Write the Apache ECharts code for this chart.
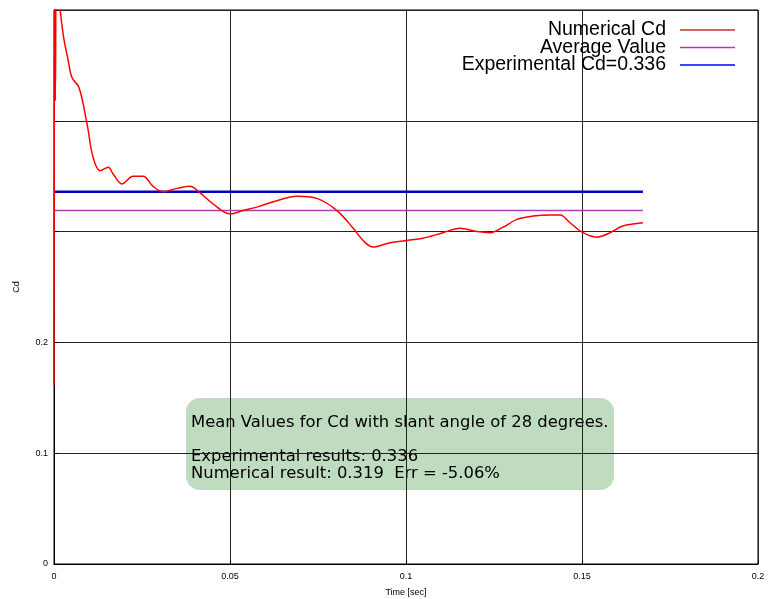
<!DOCTYPE html>
<html>
<head>
<meta charset="utf-8">
<script src="https://cdn.jsdelivr.net/npm/echarts@6/dist/echarts.min.js"></script>
<style>html,body{margin:0;padding:0;background:#fff}#c{width:768px;height:599px}</style>
</head>
<body>
<div id="c"></div>
<script>
// ---- data ----
const timeSec = [0, 0.0002, 0.0004, 0.0007, 0.0012, 0.0026, 0.0040, 0.0051, 0.0071, 0.0094, 0.0111, 0.0131, 0.0154, 0.0168, 0.0193, 0.0225, 0.0253, 0.0281, 0.0310, 0.0349, 0.0386, 0.0415, 0.0452, 0.0500, 0.0537, 0.0585, 0.0614, 0.0690, 0.0747, 0.0804, 0.0850, 0.0878, 0.0906, 0.0955, 0.1003, 0.1048, 0.1105, 0.1153, 0.1202, 0.1239, 0.1276, 0.1315, 0.1361, 0.1409, 0.1438, 0.1466, 0.1503, 0.1543, 0.1580, 0.1616, 0.1673];
const numericalCd = [0.161, 0.56, 0.418, 0.58, 0.52, 0.478, 0.455, 0.439, 0.430, 0.397, 0.367, 0.355, 0.358, 0.352, 0.343, 0.350, 0.350, 0.341, 0.336, 0.339, 0.341, 0.335, 0.325, 0.316, 0.319, 0.323, 0.326, 0.332, 0.330, 0.319, 0.303, 0.292, 0.286, 0.290, 0.292, 0.294, 0.299, 0.303, 0.300, 0.299, 0.304, 0.311, 0.314, 0.315, 0.315, 0.308, 0.299, 0.295, 0.299, 0.305, 0.308];
const averageValue = 0.319;
const experimentalCd = 0.336;
const lineStart = 0;
const lineEnd = 0.1673;
const seriesNames = ['Numerical Cd', 'Average Value', 'Experimental Cd=0.336'];
const xTickLabels = ['0', '0.05', '0.1', '0.15', '0.2'];
const yTickLabels = ['0', '0.1', '0.2'];
const boxLines = ['Mean Values for Cd with slant angle of 28 degrees.', '', 'Experimental results: 0.336', 'Numerical result: 0.319  Err = -5.06%'];

const chart = echarts.init(document.getElementById('c'), null, {renderer: 'canvas'});
const numData = timeSec.map((t, i) => [t, numericalCd[i]]);
const fnt = '"Liberation Sans", Arial, sans-serif';

chart.setOption({
  animation: false,
  backgroundColor: '#fff',
  grid: {left: 54, right: 10, top: 10, bottom: 35, outerBoundsMode: 'none', containLabel: false,
    show: true, borderColor: '#000', borderWidth: 1, backgroundColor: 'transparent'},
  legend: {
    orient: 'vertical', right: 28, top: 15, align: 'right', itemGap: -2.5,
    itemWidth: 55, itemHeight: 1.5, icon: 'rect',
    textStyle: {fontFamily: fnt, fontSize: 19.5, color: '#000', lineHeight: 17, padding: [0, 9, 0, 0]},
    data: [
      {name: seriesNames[0], itemStyle: {color: '#c03030'}},
      {name: seriesNames[1], itemStyle: {color: '#c030c0'}},
      {name: seriesNames[2], itemStyle: {color: '#0000ff'}}
    ]
  },
  xAxis: {
    type: 'value', min: 0, max: 0.2, interval: 0.05,
    name: 'Time [sec]', nameLocation: 'middle', nameGap: 24,
    nameTextStyle: {fontFamily: fnt, fontSize: 9, color: '#000'},
    axisLine: {show: true, lineStyle: {color: '#000', width: 1}},
    axisTick: {show: true, inside: true, length: 4, lineStyle: {color: '#000'}},
    axisLabel: {fontFamily: fnt, fontSize: 9, color: '#000', margin: 8,
      formatter: (v) => { const i = Math.round(v / 0.05); return xTickLabels[i] !== undefined ? xTickLabels[i] : ''; }},
    splitLine: {show: true, lineStyle: {color: '#222', width: 1}}
  },
  yAxis: {
    type: 'value', min: 0, max: 0.5, interval: 0.1,
    name: 'Cd', nameLocation: 'middle', nameGap: 33, nameRotate: 90,
    nameTextStyle: {fontFamily: fnt, fontSize: 9, color: '#000'},
    axisLine: {show: true, lineStyle: {color: '#000', width: 1}},
    axisTick: {show: true, inside: true, length: 4, lineStyle: {color: '#000'}},
    axisLabel: {fontFamily: fnt, fontSize: 9, color: '#000', margin: 6,
      formatter: (v) => { const i = Math.round(v / 0.1); return yTickLabels[i] !== undefined ? yTickLabels[i] : ''; }},
    splitLine: {show: true, lineStyle: {color: '#222', width: 1}}
  },
  series: [
    {name: seriesNames[0], type: 'line', data: numData, showSymbol: false, smooth: 0.35, z: 5,
      lineStyle: {color: '#ff0000', width: 1.5}, itemStyle: {color: '#ff0000'}},
    {name: seriesNames[1], type: 'line', data: [[lineStart, averageValue], [lineEnd, averageValue]], showSymbol: false, z: 3,
      lineStyle: {color: '#b040b0', width: 1.5}, itemStyle: {color: '#c030c0'}},
    {name: seriesNames[2], type: 'line', data: [[lineStart, experimentalCd], [lineEnd, experimentalCd]], showSymbol: false, z: 4,
      lineStyle: {color: '#0000c0', width: 2.5}, itemStyle: {color: '#0000ff'}}
  ],
  graphic: [{
    type: 'group', left: 186, top: 398, z: 100,
    children: [
      {type: 'rect', shape: {x: 0, y: 0, width: 428, height: 92, r: 14}, style: {fill: '#c0dcc0', stroke: null}},
      {type: 'text', x: 5, y: 16, style: {text: boxLines.join('\n'), font: '16.4px "DejaVu Sans", sans-serif', fill: '#000', lineHeight: 17}}
    ]
  }]
});
</script>
</body>
</html>
